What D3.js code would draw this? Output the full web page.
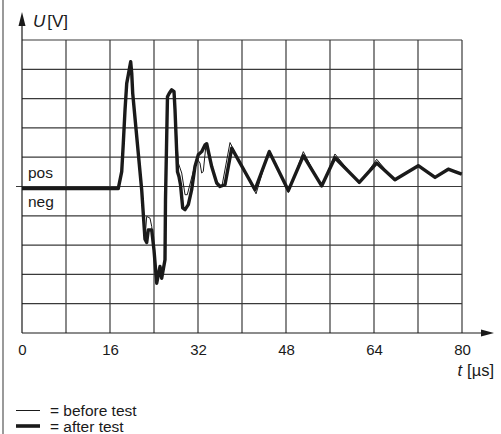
<!DOCTYPE html>
<html>
<head>
<meta charset="utf-8">
<script src="https://cdn.jsdelivr.net/npm/d3@7"></script>
<style>
  html, body { margin: 0; padding: 0; background: #fff; }
  svg { display: block; }
  text { font-family: "Liberation Sans", Arial, Helvetica, sans-serif; fill: #1a1a1a; }
</style>
</head>
<body>
<svg id="chart" width="501" height="434"></svg>
<script>
// Time axis ticks (µs) and grid steps
const timeTicks = [0, 16, 32, 48, 64, 80];
const timeGrid = [0, 8, 16, 24, 32, 40, 48, 56, 64, 72, 80];
const voltGrid = [-5, -4, -3, -2, -1, 0, 1, 2, 3, 4, 5];

// Surge response after the test: [t in µs, U in divisions]
const afterT = [0, 17.5, 18.13, 18.42, 18.73, 19.04, 19.33, 19.76, 19.95, 20.13, 21.76, 22.36, 22.67, 22.96, 23.58, 24.0, 24.49, 25.09, 25.4, 26.0, 26.09, 26.45, 26.78, 27.22, 27.64, 27.82, 28.27, 28.55, 28.82, 29.22, 29.64, 30.24, 30.85, 31.45, 32.05, 32.67, 33.27, 33.58, 34.49, 35.4, 36.0, 36.91, 38.13, 42.36, 44.96, 48.42, 51.15, 54.49, 56.9, 61.33, 64.49, 67.8, 72.05, 75.1, 77.5, 78.7, 79.95];
const afterU = [-0.07, -0.07, 0.51, 1.48, 2.61, 3.52, 3.81, 4.26, 3.87, 3.18, -0.11, -1.80, -1.91, -1.48, -1.48, -2.17, -3.30, -2.73, -3.13, -2.5, -0.45, 3.06, 3.18, 3.30, 3.24, 2.62, 0.50, 0.33, 0.06, -0.73, -0.79, -0.62, -0.11, 0.68, 1.08, 1.19, 1.42, 1.46, 0.68, 0.12, 0.0, 0.06, 1.31, -0.11, 1.19, -0.14, 1.05, 0.02, 0.98, 0.14, 0.80, 0.23, 0.71, 0.31, 0.59, 0.51, 0.42];

// Surge response before the test
const beforeT = [0, 17.5, 18.13, 18.42, 18.73, 19.04, 19.33, 19.76, 19.95, 20.13, 21.76, 22.36, 22.67, 23.27, 23.58, 24.0, 24.49, 25.09, 25.4, 26.0, 26.09, 26.45, 26.78, 27.22, 27.64, 27.82, 28.42, 29.04, 29.64, 30.05, 31.76, 32.36, 32.67, 32.96, 33.45, 34.49, 35.4, 36.36, 37.82, 42.55, 44.96, 48.42, 51.15, 54.49, 56.9, 61.33, 64.49, 67.8, 72.05, 75.1, 77.5, 78.7, 79.95];
const beforeU = [-0.07, -0.07, 0.51, 1.48, 2.61, 3.52, 3.81, 4.26, 3.87, 3.18, -0.11, -1.80, -1.02, -1.08, -1.36, -2.17, -3.30, -2.73, -3.13, -2.5, -0.45, 3.06, 3.18, 3.30, 3.24, 2.62, 0.80, 0.46, -0.28, -0.28, 0.97, 0.80, 0.46, 0.51, 1.42, 0.68, 0.06, 0.02, 1.50, -0.25, 1.25, -0.21, 1.19, -0.01, 1.11, 0.09, 0.93, 0.19, 0.74, 0.30, 0.62, 0.51, 0.42];

const ink = "#1a1a1a";
const gridInk = "#3a3a3a";

const svg = d3.select("#chart");
const x = d3.scaleLinear().domain([0, 80]).range([22, 462]);
const y = d3.scaleLinear().domain([-5, 5]).range([333, 40]);

// page rule on the left
svg.append("line")
  .attr("x1", 3).attr("x2", 3).attr("y1", 0).attr("y2", 434)
  .attr("stroke", "#9a9a9a").attr("stroke-width", 2);

// grid
const grid = svg.append("g");
grid.selectAll("line.v").data(timeGrid.slice(1)).join("line")
  .attr("x1", d => x(d)).attr("x2", d => x(d))
  .attr("y1", y(5)).attr("y2", y(-5))
  .attr("stroke", gridInk).attr("stroke-width", 1.2);
grid.selectAll("line.h").data(voltGrid.slice(1)).join("line")
  .attr("x1", d => d === 0 ? x(0) - 6 : x(0)).attr("x2", x(80))
  .attr("y1", d => y(d)).attr("y2", d => y(d))
  .attr("stroke", gridInk).attr("stroke-width", 1.2);

// axes with arrowheads
svg.append("line")
  .attr("x1", x(0)).attr("x2", x(0)).attr("y1", y(-5)).attr("y2", 22)
  .attr("stroke", ink).attr("stroke-width", 1.2);
svg.append("path")
  .attr("d", `M${x(0)},12 L${x(0) - 3.5},26 L${x(0) + 3.5},26 Z`)
  .attr("fill", ink);
svg.append("line")
  .attr("x1", x(0)).attr("x2", 485).attr("y1", y(-5)).attr("y2", y(-5))
  .attr("stroke", ink).attr("stroke-width", 1.2);
svg.append("path")
  .attr("d", `M494,${y(-5)} L481,${y(-5) - 3.5} L481,${y(-5) + 3.5} Z`)
  .attr("fill", ink);

// tick labels on the time axis
const xAxis = d3.axisBottom(x).tickValues(timeTicks).tickSize(0).tickPadding(0).tickFormat(d3.format("d"));
const gx = svg.append("g").attr("transform", `translate(0,${y(-5) + 11})`).call(xAxis);
gx.select(".domain").remove();
gx.selectAll("text").attr("font-size", 15).attr("fill", ink)
  .attr("font-family", "'Liberation Sans', Arial, sans-serif");

// axis titles
const uLabel = svg.append("text").attr("x", 33).attr("y", 27).attr("font-size", 17);
uLabel.append("tspan").attr("font-style", "italic").text("U");
uLabel.append("tspan").attr("dx", 2).text("[V]");

const tLabel = svg.append("text").attr("x", 494).attr("y", 376).attr("font-size", 16.5).attr("text-anchor", "end");
tLabel.append("tspan").attr("font-style", "italic").text("t");
tLabel.append("tspan").attr("dx", 5).text("[µs]");

// polarity labels
svg.append("text").attr("x", 28).attr("y", 178).attr("font-size", 15.5).text("pos");
svg.append("text").attr("x", 28).attr("y", 207).attr("font-size", 15.5).text("neg");

// waveforms
const line = d3.line().x(d => x(d[0])).y(d => y(d[1]));
const before = beforeT.map((t, i) => [t, beforeU[i]]);
const after = afterT.map((t, i) => [t, afterU[i]]);

svg.append("path").datum(before).attr("d", line)
  .attr("fill", "none").attr("stroke", ink).attr("stroke-width", 1)
  .attr("stroke-linejoin", "round");
svg.append("path").datum(after).attr("d", line)
  .attr("fill", "none").attr("stroke", ink).attr("stroke-width", 3.4)
  .attr("stroke-linejoin", "round");

// legend
const legend = svg.append("g");
legend.append("line").attr("x1", 16).attr("x2", 40).attr("y1", 410.5).attr("y2", 410.5)
  .attr("stroke", ink).attr("stroke-width", 1);
legend.append("text").attr("x", 50).attr("y", 416).attr("font-size", 15.5).text("= before test");
legend.append("line").attr("x1", 16).attr("x2", 40).attr("y1", 426).attr("y2", 426)
  .attr("stroke", ink).attr("stroke-width", 3.6);
legend.append("text").attr("x", 50).attr("y", 432).attr("font-size", 15.5).text("= after test");
</script>
</body>
</html>
